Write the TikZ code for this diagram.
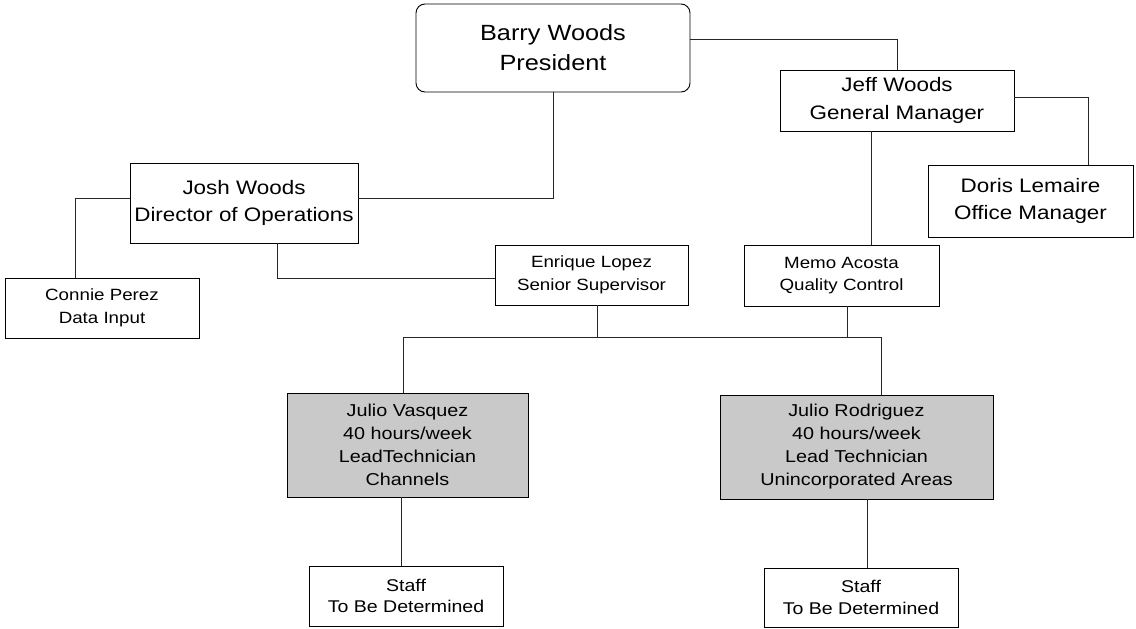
\documentclass[tikz,border=0pt]{standalone}
\usepackage{fontspec}
\setmainfont[FakeStretch=1.15]{Liberation Sans}
\begin{document}
\begin{tikzpicture}[x=1pt,y=-1pt,
  box/.style={draw=black, line width=0.9pt, inner sep=0pt, align=center, fill=white},
  big/.style={font=\fontsize{22}{30}\selectfont},
  mid/.style={font=\fontsize{19.5}{27.5}\selectfont},
  small/.style={font=\fontsize{16.3}{22.5}\selectfont},
  tech/.style={font=\fontsize{17.2}{23}\selectfont},
  stafftext/.style={font=\fontsize{17}{21.5}\selectfont},
  shaded/.style={fill=black!21},
  wire/.style={line width=0.9pt, draw=black!85}]
\useasboundingbox (0,0) rectangle (1136,629);

\node[box,big,rounded corners=9pt,minimum width=274pt,minimum height=88pt] (barry) at (553,48) {Barry Woods\\President};
\node[box,mid,minimum width=234pt,minimum height=61pt] (jeff) at (897,100.5) {Jeff Woods\\General Manager};
\node[box,mid,minimum width=205pt,minimum height=72pt] (doris) at (1030.5,201) {Doris Lemaire\\Office Manager};
\node[box,mid,minimum width=228pt,minimum height=80pt] (josh) at (244,203) {Josh Woods\\Director of Operations};
\node[box,small,minimum width=194pt,minimum height=60pt] (connie) at (102,308) {Connie Perez\\Data Input};
\node[box,small,minimum width=193pt,minimum height=60pt] (enrique) at (591.5,275) {Enrique Lopez\\Senior Supervisor};
\node[box,small,minimum width=195pt,minimum height=61pt] (memo) at (841.5,275.5) {Memo Acosta\\Quality Control};
\node[box,tech,shaded,minimum width=241pt,minimum height=104pt] (julv) at (407.5,445) {Julio Vasquez\\40 hours/week\\LeadTechnician\\Channels};
\node[box,tech,shaded,minimum width=273pt,minimum height=104pt] (julr) at (856.5,447) {Julio Rodriguez\\40 hours/week\\Lead Technician\\Unincorporated Areas};
\node[box,stafftext,minimum width=194pt,minimum height=60pt] (staffa) at (406,596) {Staff\\To Be Determined};
\node[box,stafftext,minimum width=194pt,minimum height=59pt] (staffb) at (861,597.5) {Staff\\To Be Determined};

% helper coordinates
\coordinate (xjm) at (871,0);
\coordinate (xdor) at (1088,0);
\coordinate (xcon) at (75,0);
\coordinate (xjos) at (277,0);
\coordinate (xenr) at (597,0);
\coordinate (xmem) at (847,0);
\coordinate (xjv) at (403,0);
\coordinate (xjr) at (881,0);
\coordinate (xsa) at (401,0);
\coordinate (xsb) at (867,0);
\coordinate (ybus) at (0,337);
\coordinate (yjosh) at (0,198);
\coordinate (yjeff) at (0,97);
\coordinate (ybar) at (0,39);
\coordinate (yje) at (0,278);

% Barry -> Josh
\draw[wire] (barry.south) |- (josh.east |- yjosh);
% Barry -> Jeff
\draw[wire] (barry.east |- ybar) -| (jeff.north);
% Jeff -> Doris
\draw[wire] (jeff.east |- yjeff) -| (xdor |- doris.north);
% Jeff -> Memo
\draw[wire] (xjm |- jeff.south) -- (xjm |- memo.north);
% Josh -> Connie
\draw[wire] (josh.west |- yjosh) -| (xcon |- connie.north);
% Josh -> Enrique
\draw[wire] (xjos |- josh.south) |- (enrique.west |- yje);
% Enrique, Memo -> bus
\draw[wire] (xenr |- enrique.south) -- (xenr |- ybus);
\draw[wire] (xmem |- memo.south) -- (xmem |- ybus);
\draw[wire] (xjv |- julv.north) |- (xjr |- ybus) -- (xjr |- julr.north);
% Julios -> staff
\draw[wire] (xsa |- julv.south) -- (xsa |- staffa.north);
\draw[wire] (xsb |- julr.south) -- (xsb |- staffb.north);
\end{tikzpicture}
\end{document}
